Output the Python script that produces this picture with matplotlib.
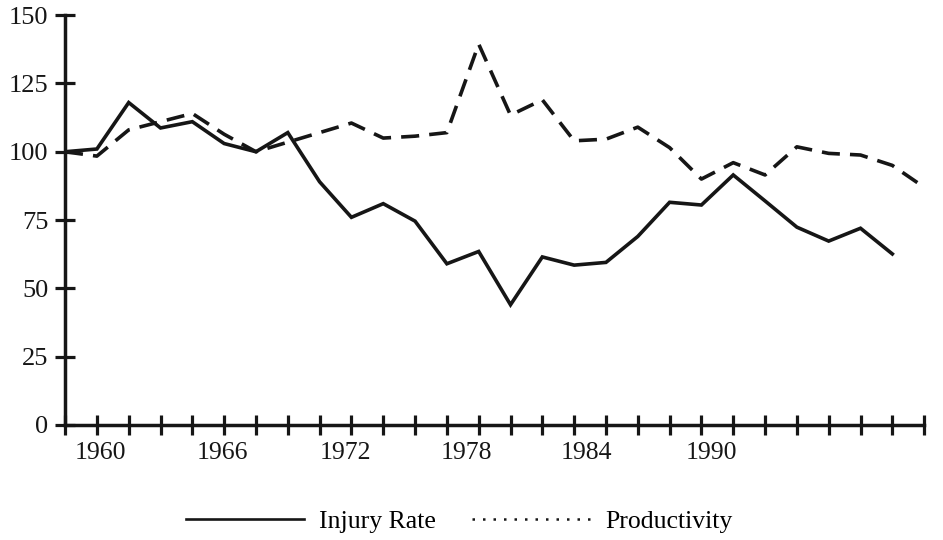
import matplotlib.pyplot as plt
from matplotlib.lines import Line2D

plt.rcParams['font.family'] = ['Liberation Serif', 'DejaVu Serif']

# one point per tick mark on the x axis
injury = [100, 101, 118, 108.7, 111, 103, 100, 107, 89, 76, 81, 74.6, 59, 63.5,
          44, 61.5, 58.5, 59.5, 69, 81.5, 80.5, 91.5, 82, 72.4, 67.3, 72, 62.6]
productivity = [100, 98.4, 108, 111, 114, 106.4, 100, 103.5, 107, 110.5, 105,
                105.7, 107, 139.4, 113.4, 119, 104, 104.6, 109, 101.5, 90, 96,
                91.5, 101.8, 99.4, 98.8, 95, 87]
year_labels = ['1960', '1966', '1972', '1978', '1984', '1990']
label_pos = [1.1, 4.93, 8.8, 12.6, 16.4, 20.3]
y_ticks = [0, 25, 50, 75, 100, 125, 150]

ink = '#161616'

fig = plt.figure(figsize=(9.43, 5.4), dpi=100)
ax = fig.add_axes([0.069, 0.213, 0.911, 0.759])

ax.plot(range(len(injury)), injury, color=ink, lw=2.6, solid_joinstyle='miter')
ax.plot(range(len(productivity)), productivity, color=ink, lw=2.6,
        linestyle=(0, (5, 2.8)))

ax.set_xlim(0, len(productivity) - 1)
ax.set_ylim(0, 150)

for s in ['top', 'right']:
    ax.spines[s].set_visible(False)
for s in ['left', 'bottom']:
    ax.spines[s].set_linewidth(2.5)
    ax.spines[s].set_color(ink)

ax.set_yticks(y_ticks)
ax.tick_params(axis='y', direction='inout', length=14, width=2.3, color=ink,
               labelsize=19, pad=5, labelcolor=ink)

ax.set_xticks(range(len(productivity)), minor=True)
ax.set_xticks(label_pos, year_labels)
ax.tick_params(axis='x', which='minor', direction='inout', length=14, width=2.3, color=ink)
ax.tick_params(axis='x', which='major', length=0, labelsize=18.5, pad=12, labelcolor=ink)

handles = [Line2D([], [], color=ink, lw=1.9),
           Line2D([], [], color=ink, lw=1.8, linestyle=(0, (1, 3.2)))]
fig.legend(handles, ['Injury Rate', 'Productivity'], loc='center',
           bbox_to_anchor=(0.487, 0.035), ncol=2, frameon=False, fontsize=18.5,
           handlelength=4.6, handletextpad=0.6, columnspacing=1.4)

fig.savefig('out.png', dpi=100)
